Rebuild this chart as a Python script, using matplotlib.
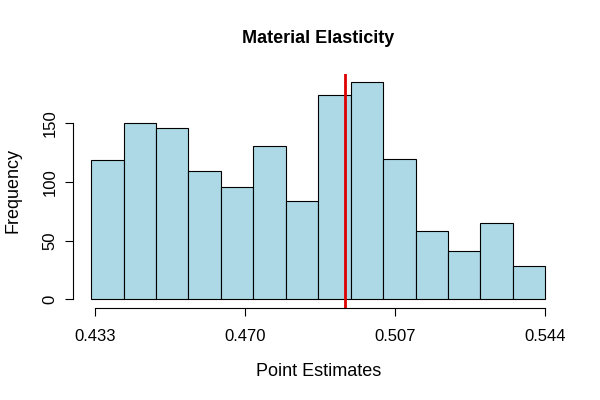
import matplotlib
matplotlib.use("Agg")
import matplotlib.pyplot as plt
import numpy as np

# histogram data
breaks = np.linspace(0.432, 0.544, 15)
counts = [119, 150, 146, 109, 96, 131, 84, 174, 185, 120, 58, 41, 65, 28]
x_ticks = [0.433, 0.470, 0.507, 0.544]
y_ticks = [0, 50, 100, 150]
estimate = 0.4945

plt.rcParams['font.family'] = ['Liberation Sans', 'DejaVu Sans']

fig = plt.figure(figsize=(6, 4), dpi=100)
ax = fig.add_axes([0.1217, 0.23, 0.8173, 0.586])

ax.bar(breaks[:-1], counts, width=np.diff(breaks), align='edge',
       color='#ADD8E6', edgecolor='black', linewidth=0.8)
ax.axvline(estimate, color='#DD0000', linewidth=2)

# R-like extended ranges
xr = breaks[-1] - breaks[0]
ax.set_xlim(breaks[0] - 0.04 * xr, breaks[-1] + 0.04 * xr)
ymax = max(counts)
ax.set_ylim(-0.04 * ymax, ymax * 1.04)

for s in ['top', 'right']:
    ax.spines[s].set_visible(False)
ax.spines['left'].set_bounds(0, 150)
ax.spines['bottom'].set_bounds(x_ticks[0], x_ticks[-1])
for s in ['left', 'bottom']:
    ax.spines[s].set_linewidth(0.8)

ax.set_xticks(x_ticks)
ax.set_xticklabels(['%.3f' % v for v in x_ticks])
ax.set_yticks(y_ticks)
ax.set_yticklabels([str(v) for v in y_ticks], rotation=90, va='center')
ax.tick_params(axis='both', length=6, width=0.8, labelsize=12, color='black')
ax.tick_params(axis='x', pad=9)
ax.tick_params(axis='y', pad=5)

ax.set_xlabel('Point Estimates', fontsize=13, labelpad=14)
ax.set_ylabel('Frequency', fontsize=13, labelpad=15)
ax.set_title('Material Elasticity', fontsize=13, fontweight='bold', pad=22)

fig.savefig('out.png', dpi=100)
